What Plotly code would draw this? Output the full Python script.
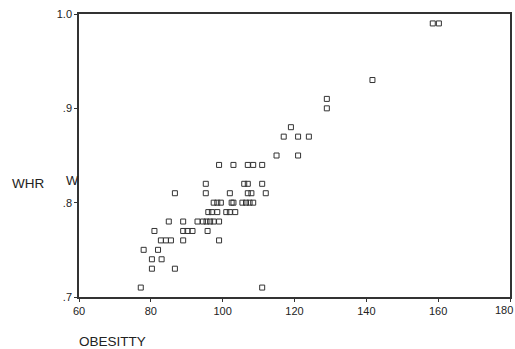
import plotly.graph_objects as go

# Data (OBESITY vs WHR)
obesity = [158.5, 160.2,
           141.7,
           129.0, 129.0,
           119.0,
           117.0, 121.0, 124.0,
           115.0, 121.0,
           99.0, 103.0, 107.0, 108.5, 111.0,
           95.3, 106.0, 107.0, 111.0,
           86.7, 95.3, 102.0, 107.0, 108.0, 112.0,
           97.5, 98.5, 99.5, 102.5, 103.0, 105.5, 106.5, 107.5, 108.5,
           96.0, 97.0, 98.5, 101.0, 102.0, 103.5,
           85.0, 89.0, 93.0, 94.5, 95.5, 96.5, 97.5, 99.0,
           81.0, 89.0, 90.2, 91.6, 95.8,
           82.8, 84.2, 85.6, 89.0, 99.0,
           78.0, 82.0,
           80.3, 83.0,
           80.3, 86.7,
           77.2, 111.0]
whr = [0.99, 0.99,
       0.93,
       0.91, 0.90,
       0.88,
       0.87, 0.87, 0.87,
       0.85, 0.85,
       0.84, 0.84, 0.84, 0.84, 0.84,
       0.82, 0.82, 0.82, 0.82,
       0.81, 0.81, 0.81, 0.81, 0.81, 0.81,
       0.80, 0.80, 0.80, 0.80, 0.80, 0.80, 0.80, 0.80, 0.80,
       0.79, 0.79, 0.79, 0.79, 0.79, 0.79,
       0.78, 0.78, 0.78, 0.78, 0.78, 0.78, 0.78, 0.78,
       0.77, 0.77, 0.77, 0.77, 0.77,
       0.76, 0.76, 0.76, 0.76, 0.76,
       0.75, 0.75,
       0.74, 0.74,
       0.73, 0.73,
       0.71, 0.71]

x_ticks = [60, 80, 100, 120, 140, 160, 180]
x_ticklabels = ["60", "80", "100", "120", "140", "160", ""]
last_x_label = "180"
y_ticks = [0.7, 0.8, 0.9, 1.0]
y_ticklabels = [".7", ".8", ".9", "1.0"]

FONT = "Liberation Sans, Arial, sans-serif"

fig = go.Figure()
fig.add_trace(go.Scatter(
    x=obesity, y=whr, mode="markers",
    marker=dict(symbol="square-open", size=5, color="#333333",
                line=dict(width=1, color="#333333")),
    showlegend=False, cliponaxis=False,
))

fig.update_layout(
    width=515, height=349,
    margin=dict(l=79, r=5, t=14, b=52),
    paper_bgcolor="white", plot_bgcolor="white",
    font=dict(family=FONT, size=11, color="#222222"),
    xaxis=dict(range=[60, 180], tickvals=x_ticks, ticktext=x_ticklabels,
               showgrid=False, zeroline=False, showline=True, mirror=True,
               linecolor="#333333", linewidth=1.5, ticks="outside",
               ticklen=3, tickcolor="#333333", automargin=False,
               tickfont=dict(size=11, family=FONT)),
    yaxis=dict(range=[0.7, 1.0], tickvals=y_ticks, ticktext=y_ticklabels,
               showgrid=False, zeroline=False, showline=True, mirror=True,
               linecolor="#333333", linewidth=1.5, ticks="outside",
               ticklen=3, tickcolor="#333333", automargin=False,
               tickfont=dict(size=11, family=FONT)),
    annotations=[
        dict(text=last_x_label, xref="x", yref="paper", x=180, y=0,
             xanchor="right", yanchor="top", xshift=5, yshift=-5,
             showarrow=False,
             font=dict(size=11, family=FONT, color="#222222")),
        dict(text="WHR", xref="paper", yref="paper", x=-0.16, y=0.4,
             xanchor="left", yanchor="middle", showarrow=False,
             font=dict(size=13.5, family=FONT, color="#222222")),
        dict(text="W", xref="paper", yref="paper", x=-0.014, y=0.41,
             xanchor="center", yanchor="middle", showarrow=False,
             font=dict(size=13, family=FONT, color="#222222")),
        dict(text="OBESITTY", xref="paper", yref="paper", x=-0.004, y=-0.158,
             xanchor="left", yanchor="middle", showarrow=False,
             font=dict(size=13.5, family=FONT, color="#222222")),
    ],
)

fig.write_html("out.html")
